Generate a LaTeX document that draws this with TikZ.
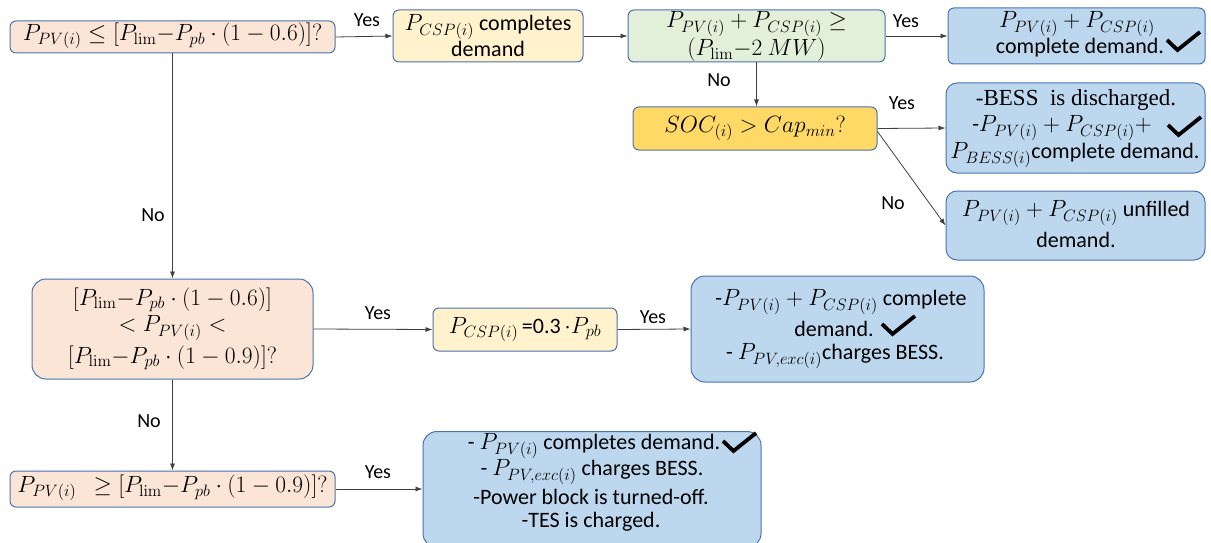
\RequirePackage{fix-cm}
\documentclass[tikz,border=0pt]{standalone}
\usepackage[no-math]{fontspec}
\setmainfont{Carlito}
\newfontfamily\serifbox{Liberation Serif}
\usetikzlibrary{arrows.meta}
\definecolor{bordercol}{HTML}{4A72B0}
\definecolor{peach}{HTML}{FBE5D6}
\definecolor{lyellow}{HTML}{FFF2CC}
\definecolor{lgreen}{HTML}{E2F0D9}
\definecolor{lblue}{HTML}{BDD7EE}
\definecolor{gold}{HTML}{FFD966}
\newcommand{\mm}[1]{{\fontsize{23.5}{26}\selectfont$#1$}}
\tikzset{
  box/.style={draw=bordercol, line width=1pt, rounded corners=6pt, align=center, inner sep=0pt,
    font=\fontsize{22}{26}\selectfont},
  bigbox/.style={box, rounded corners=14pt},
  txt/.style={font=\fontsize{22}{26}\selectfont, align=center, inner sep=0pt},
  arr/.style={draw=black!75, line width=0.8pt, -{Latex[length=7pt,width=5pt]}},
  lbl/.style={font=\fontsize{20}{24}\selectfont, inner sep=0pt},
  chk/.pic={\draw[line width=3.8pt, line join=miter, line cap=butt] (-16,-2) -- (-5.5,8) -- (17,-10);}
}
\begin{document}
\begin{tikzpicture}[x=1pt,y=-1pt]
\useasboundingbox (0,0) rectangle (1211,543);
% boxes
\node[box, fill=peach, minimum width=325pt, minimum height=32pt] (A) at (172.5,37) {};
\node[txt] (At) at (172.5,36) {\mm{P_{PV(i)}\leq[P_{\mathrm{lim}}{-}P_{pb}\cdot(1-0.6)]?}};
\node[box, fill=lyellow, minimum width=190pt, minimum height=52pt] (B) at (488,36)
  {\mm{P_{CSP(i)}} completes\\demand};
\node[box, fill=lgreen, minimum width=257pt, minimum height=52pt] (C) at (756.5,36) {};
\node[txt] (Ct1) at (756.5,24) {\mm{P_{PV(i)}+P_{CSP(i)}\geq}};
\node[txt] (Ct2) at (756.5,50) {\mm{(P_{\mathrm{lim}}{-}2\ MW)}};
\node[box, fill=lblue, minimum width=257pt, minimum height=56pt] (D) at (1076.5,36) {};
\node[txt] (Dt1) at (1077,24) {\mm{P_{PV(i)}+P_{CSP(i)}}};
\node[txt] (Dt2) at (1080,48) {complete demand.};
\node[box, fill=gold, minimum width=244pt, minimum height=43pt] (SOC) at (755,128.5)
  {\mm{SOC_{(i)}>Cap_{min}?}};
\node[box, fill=lblue, rounded corners=11pt, minimum width=259pt, minimum height=90pt] (BESS) at (1075.5,128) {};
\node[txt] (Bt1) at (1076,100) {\serifbox\fontsize{23}{26}\selectfont -BESS\ \ is discharged.};
\node[txt] (Bt2) at (1062,128) {-\mm{P_{PV(i)}+P_{CSP(i)}+}};
\node[txt] (Bt3) at (1075,155) {\mm{P_{BESS(i)}}complete demand.};
\node[box, fill=lblue, rounded corners=11pt, minimum width=259pt, minimum height=69pt] (U) at (1075.5,225.5) {};
\node[txt] (Ut1) at (1076,213) {\mm{P_{PV(i)}+P_{CSP(i)}} unfilled};
\node[txt] (Ut2) at (1076,240) {demand.};
\node[bigbox, fill=peach, minimum width=281pt, minimum height=100pt] (M) at (172.5,329) {};
\node[txt] (Mt1) at (172.5,300) {\mm{[P_{\mathrm{lim}}{-}P_{pb}\cdot(1-0.6)]}};
\node[txt] (Mt2) at (172.5,328) {\mm{<P_{PV(i)}<}};
\node[txt] (Mt3) at (172.5,358) {\mm{[P_{\mathrm{lim}}{-}P_{pb}\cdot(1-0.9)]?}};
\node[box, fill=lyellow, minimum width=184pt, minimum height=43pt] (E) at (525,329.5)
  {\mm{P_{CSP(i)}}\,=0.3\,\mm{\cdot P_{pb}}};
\node[bigbox, fill=lblue, minimum width=293pt, minimum height=106pt] (F) at (837.5,329) {};
\node[txt] (Ft1) at (841,302) {-\mm{P_{PV(i)}+P_{CSP(i)}} complete};
\node[txt] (Ft2) at (834,329) {demand.};
\node[txt] (Ft3) at (835,356) {- \mm{P_{PV,exc(i)}}charges BESS.};
\node[box, fill=peach, minimum width=325pt, minimum height=36pt] (G) at (172.5,489) {};
\node[txt] (Gt) at (172.5,488) {\mm{P_{PV(i)}\ \ \geq[P_{\mathrm{lim}}{-}P_{pb}\cdot(1-0.9)]?}};
\node[bigbox, fill=lblue, minimum width=338pt, minimum height=116pt, anchor=north] (H) at (592,431) {};
\node[txt] (Ht1) at (594,446) {- \mm{P_{PV(i)}} completes demand.};
\node[txt] (Ht2) at (592,472) {- \mm{P_{PV,exc(i)}} charges BESS.};
\node[txt] (Ht3) at (591,497) {-Power block is turned-off.};
\node[txt] (Ht4) at (591,522) {-TES is charged.};
% check marks
\pic at (1183,42) {chk};
\pic at (1184,127) {chk};
\pic at (898,326) {chk};
\pic at (739,443) {chk};
% connectors
\draw[arr] (A.east) -- (B.west);
\draw[arr] (B.east) -- (C.west);
\draw[arr] (C.east) -- (D.west);
\draw[arr] (C.south) -- (C.south |- SOC.north);
\draw[arr] (SOC.east) -- (BESS.west);
\draw[arr] ([yshift=-3pt]SOC.east) -- (U.west);
\draw[arr] (A.south) -- (M.north);
\draw[arr] (M.east) -- (E.west);
\draw[arr] (E.east) -- (F.west);
\draw[arr] (M.south) -- (G.north);
\draw[arr] (G.east) -- (H.west |- G.east);
% labels
\node[lbl] (l1) at (367,20) {Yes};
\node[lbl] (l2) at (906,21) {Yes};
\node[lbl] (l3) at (719,80) {No};
\node[lbl] (l4) at (902,103) {Yes};
\node[lbl] (l5) at (893,203) {No};
\node[lbl] (l6) at (153,215) {No};
\node[lbl] (l7) at (378,313) {Yes};
\node[lbl] (l8) at (653,317) {Yes};
\node[lbl] (l9) at (149,421) {No};
\node[lbl] (l10) at (378,472) {Yes};
\end{tikzpicture}
\end{document}
